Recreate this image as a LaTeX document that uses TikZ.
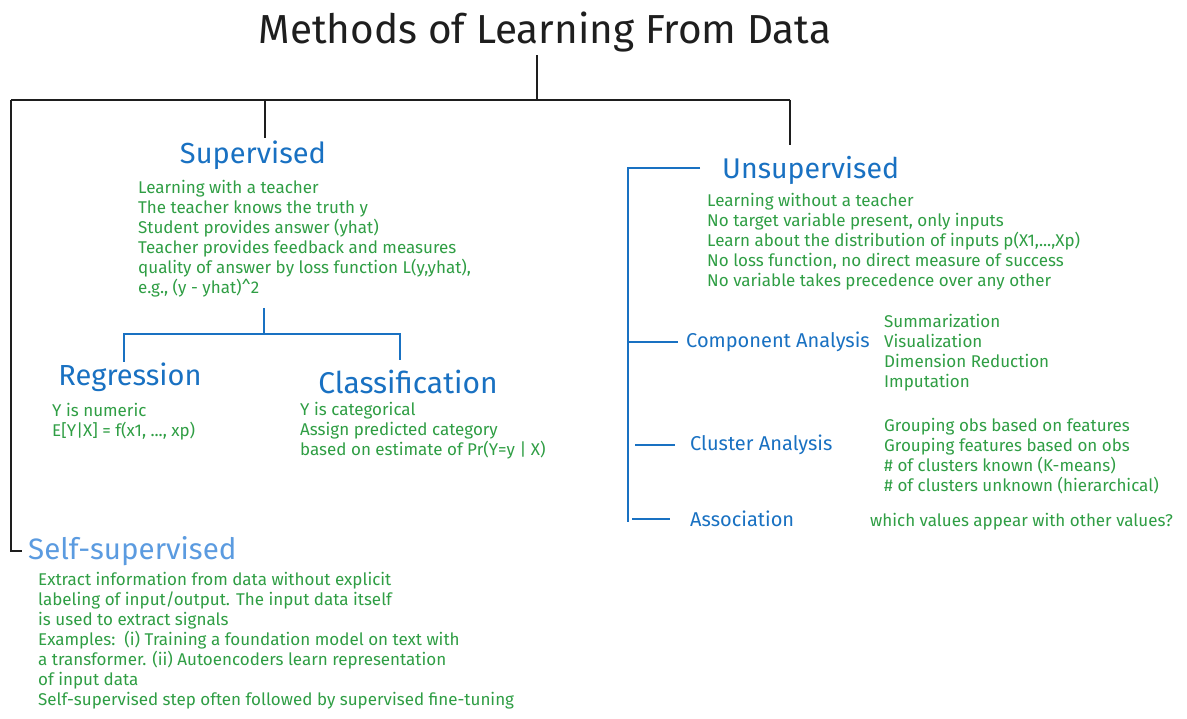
\documentclass[tikz,border=0pt]{standalone}
\usepackage{fontspec}
\setmainfont{Fira Sans}
\usetikzlibrary{positioning}
\definecolor{ink}{HTML}{1E1E1E}
\definecolor{inkblue}{HTML}{1971C2}
\definecolor{inklight}{HTML}{5B9BE0}
\definecolor{inkgreen}{HTML}{2F9E44}

\begin{document}
\begin{tikzpicture}[x=1pt,y=-1pt,inner sep=0pt,
  head/.style={text=inkblue,font=\fontsize{29}{32}\selectfont},
  sub/.style={text=inkblue,font=\fontsize{20}{24}\selectfont,anchor=west},
  note/.style={text=inkgreen,font=\fontsize{17}{20}\selectfont,align=left,anchor=north west},
  trunk/.style={draw=ink,line width=2.6pt},
  twig/.style={draw=inkblue,line width=2.6pt}]
\useasboundingbox[fill=white] (0,0) rectangle (1187,719);

\node[text=ink,font=\fontsize{40.5}{44}\selectfont] (title) at (545,32) {Methods of Learning From Data};
\coordinate (root) at (537,100);
\coordinate (left) at (11,100);
\coordinate (right) at (790,100);
\coordinate (supjoin) at (265,100);

\node[head] (sup) at (253,155) {Supervised};
\node[note] (supnote) at (138,180) {Learning with a teacher\\
The teacher knows the truth y\\
Student provides answer (yhat)\\
Teacher provides feedback and measures\\
quality of answer by loss function L(y,yhat),\\
e.g., (y - yhat)\^{}2};

\node[head] (reg) at (130,377) {Regression};
\node[note] (regnote) at (52,403) {Y is numeric\\
E[Y|X] = f(x1, ..., xp)};
\node[head,font=\fontsize{30}{32}\selectfont] (cls) at (408,382) {Classification};
\node[note] (clsnote) at (300,402) {Y is categorical\\
Assign predicted category\\
based on estimate of Pr(Y=y | X)};

\node[head,anchor=west,font=\fontsize{28.5}{32}\selectfont] (unsup) at (722,170) {Unsupervised};
\node[note] (unsupnote) at (707,193) {Learning without a teacher\\
No target variable present, only inputs\\
Learn about the distribution of inputs p(X1,...,Xp)\\
No loss function, no direct measure of success\\
No variable takes precedence over any other};

\node[sub] (comp) at (686,342) {Component Analysis};
\node[note] (compnote) at (884,314) {Summarization\\
Visualization\\
Dimension Reduction\\
Imputation};
\node[sub] (clu) at (690,445) {Cluster Analysis};
\node[note] (clunote) at (884,418) {Grouping obs based on features\\
Grouping features based on obs\\
\# of clusters known (K-means)\\
\# of clusters unknown (hierarchical)};
\node[sub] (assoc) at (690,519) {Association};
\node[note,anchor=west] (assocnote) at (870,522) {which values appear with other values?};

\node[head,anchor=west,text=inklight,font=\fontsize{29.5}{32}\selectfont] (self) at (28,551) {Self-supervised};
\node[note] (selfnote) at (38,572) {Extract information from data without explicit\\
labeling of input/output. The input data itself\\
is used to extract signals\\
Examples:\ \ (i) Training a foundation model on text with\\
a transformer. (ii) Autoencoders learn representation\\
of input data\\
Self-supervised step often followed by supervised fine-tuning};

% top level tree
\draw[trunk] (root |- title.south) ++(0,3) -- (root);
\draw[trunk] (left) -- (right);
\draw[trunk] (supjoin) -- ++(0,38);
\draw[trunk] (right) -- ++(0,45);
\draw[trunk,shorten >=6pt] (left) |- (self.west);

% supervised split
\coordinate (sstem) at (264,308);
\coordinate (sjoin) at (264,334);
\coordinate (rtop) at (124,362);
\coordinate (ctop) at (400,360);
\draw[twig] (sstem) -- (sjoin);
\draw[twig] (rtop) |- (sjoin) -| (ctop);

% unsupervised branches
\coordinate (utop) at (628,168);
\coordinate (ubot) at (628,522);
\draw[twig] (700,168) -- (utop) -- (ubot);
\draw[twig,shorten >=8pt] (utop |- comp) -- (comp.west);
\draw[twig,shorten <=7pt,shorten >=15pt] (utop |- clu) -- (clu.west);
\draw[twig,shorten <=4pt,shorten >=20pt] (utop |- assoc) -- (assoc.west);
\end{tikzpicture}
\end{document}
